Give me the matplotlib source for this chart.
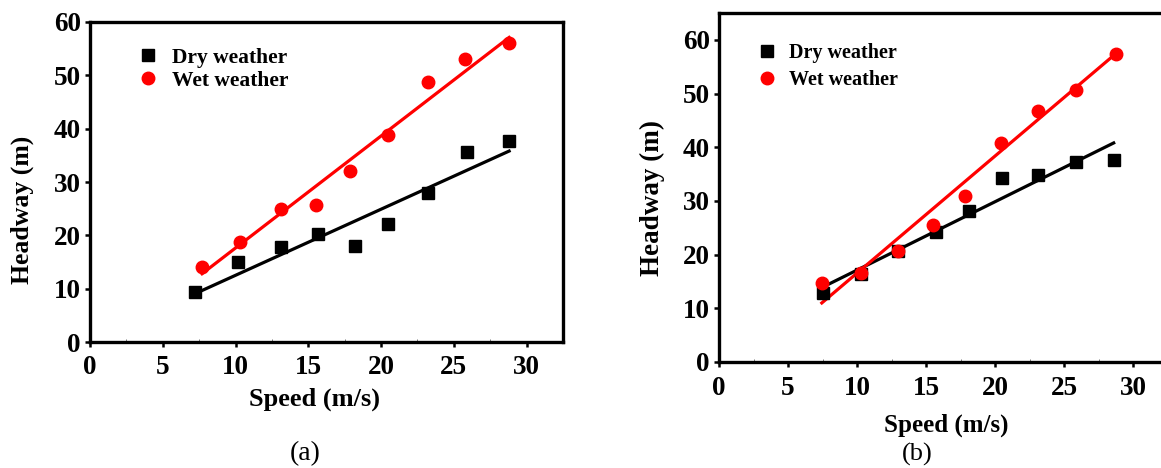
import matplotlib
matplotlib.use("Agg")
import matplotlib.pyplot as plt
from matplotlib.ticker import MultipleLocator

plt.rcParams['font.family'] = ['Liberation Serif', 'DejaVu Serif']
plt.rcParams['font.weight'] = 'bold'

# panel (a) data
a_dry_speed = [7.25, 10.2, 13.1, 15.7, 18.2, 20.5, 23.2, 25.9, 28.8]
a_dry_headway = [9.3, 15.0, 17.8, 20.2, 18.0, 22.1, 27.9, 35.6, 37.6]
a_wet_speed = [7.7, 10.3, 13.1, 15.5, 17.9, 20.5, 23.25, 25.8, 28.8]
a_wet_headway = [14.0, 18.8, 24.9, 25.7, 32.1, 38.8, 48.8, 53.1, 56.1]
a_dry_fit_x = [7.25, 28.8]
a_dry_fit_y = [9.1, 35.8]
a_wet_fit_x = [7.7, 28.8]
a_wet_fit_y = [12.8, 57.1]

# panel (b) data
b_dry_speed = [7.5, 10.3, 13.0, 15.7, 18.1, 20.5, 23.15, 25.9, 28.6]
b_dry_headway = [12.8, 16.3, 20.7, 24.3, 28.2, 34.2, 34.9, 37.2, 37.6]
b_wet_speed = [7.45, 10.3, 13.0, 15.5, 17.85, 20.4, 23.1, 25.85, 28.8]
b_wet_headway = [14.7, 16.6, 20.7, 25.6, 31.0, 40.8, 46.7, 50.7, 57.4]
b_dry_fit_x = [7.4, 28.6]
b_dry_fit_y = [13.8, 40.8]
b_wet_fit_x = [7.45, 28.6]
b_wet_fit_y = [11.0, 57.1]

x_ticks = [0, 5, 10, 15, 20, 25, 30]
y_ticks = [0, 10, 20, 30, 40, 50, 60]


def style_axes(ax, ylim, tick_size, xpad):
    ax.set_xlim(0, 32.5)
    ax.set_ylim(*ylim)
    ax.set_xticks(x_ticks)
    ax.set_yticks(y_ticks)
    ax.xaxis.set_minor_locator(MultipleLocator(2.5))
    for s in ax.spines.values():
        s.set_linewidth(2.4)
    ax.tick_params(which='major', direction='out', length=3.5, width=1.8,
                   labelsize=tick_size, pad=3)
    ax.tick_params(axis='x', which='major', pad=xpad)
    ax.tick_params(axis='x', which='minor', direction='in', length=2,
                   width=0.6, color='#666666')
    ax.tick_params(axis='y', which='minor', left=False)
    for lab in ax.get_xticklabels() + ax.get_yticklabels():
        lab.set_fontweight('bold')


def draw_panel(ax, dry_x, dry_y, wet_x, wet_y, dfx, dfy, wfx, wfy):
    ax.plot(dry_x, dry_y, 's', color='black', ms=8, ls='none',
            label='Dry weather', zorder=3)
    ax.plot(wet_x, wet_y, 'o', color='#ff0000', ms=9, ls='none',
            label='Wet weather', zorder=3)
    ax.plot(dfx, dfy, color='black', lw=2.3, zorder=2)
    ax.plot(wfx, wfy, color='#ff0000', lw=2.3, zorder=2)


fig = plt.figure(figsize=(11.61, 4.68), dpi=100)

# ---- panel (a)
ax1 = fig.add_axes([0.0775, 0.2692, 0.4074, 0.6838])
draw_panel(ax1, a_dry_speed, a_dry_headway, a_wet_speed, a_wet_headway,
           a_dry_fit_x, a_dry_fit_y, a_wet_fit_x, a_wet_fit_y)
style_axes(ax1, (0, 60), 19.5, 5.5)
ax1.set_xlabel('Speed (m/s)', fontsize=19, fontweight='bold', va='center')
ax1.xaxis.set_label_coords(0.474, -0.178)
ax1.set_ylabel('Headway (m)', fontsize=18.5, fontweight='bold', va='center')
ax1.yaxis.set_label_coords(-0.144, 0.4125)
ax1.legend(loc='upper left', bbox_to_anchor=(0.1, 0.92), frameon=False,
           fontsize=15.5, handlelength=1.0, handletextpad=0.6,
           labelspacing=0.15, borderpad=0, borderaxespad=0)

# ---- panel (b)
ax2 = fig.add_axes([0.6193, 0.2265, 0.3863, 0.7457])
draw_panel(ax2, b_dry_speed, b_dry_headway, b_wet_speed, b_wet_headway,
           b_dry_fit_x, b_dry_fit_y, b_wet_fit_x, b_wet_fit_y)
style_axes(ax2, (0, 65), 19.5, 6.5)
ax2.set_xlabel('Speed (m/s)', fontsize=18, fontweight='bold', va='center')
ax2.xaxis.set_label_coords(0.506, -0.18)
ax2.set_ylabel('Headway (m)', fontsize=19.5, fontweight='bold', va='center')
ax2.yaxis.set_label_coords(-0.149, 0.47)
ax2.legend(loc='upper left', bbox_to_anchor=(0.085, 0.915), frameon=False,
           fontsize=14.5, handlelength=1.0, handletextpad=0.6,
           labelspacing=0.35, borderpad=0, borderaxespad=0)

fig.text(0.2627, 0.03, '(a)', fontsize=20, fontweight='normal',
         ha='center', va='center')
fig.text(0.79, 0.03, '(b)', fontsize=19, fontweight='normal',
         ha='center', va='center')

fig.savefig('out.png', dpi=100)
